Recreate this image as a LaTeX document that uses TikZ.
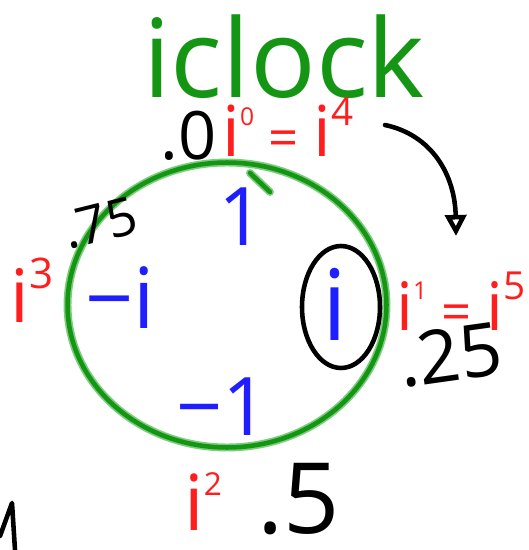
\documentclass[tikz,border=0pt]{standalone}
\usepackage{fontspec}
\setmainfont{Open Sans}
\usepackage{tikz}
\usetikzlibrary{arrows.meta}
\definecolor{penred}{RGB}{255,30,30}
\definecolor{penblue}{RGB}{30,30,255}
\definecolor{pengreen}{RGB}{20,150,20}
\definecolor{halogreen}{RGB}{125,205,125}
\newcommand{\sps}[2][18]{\raisebox{.45em}{\fontsize{#1}{#1}\selectfont #2}}
\newcommand{\eqs}{{\fontsize{30}{30}\selectfont\;=\;}}

\begin{document}
\begin{tikzpicture}[x=0.02cm, y=-0.02cm,
  every node/.style={inner sep=0pt, anchor=base west},
  power/.style={text=penred, font=\fontsize{38}{38}\selectfont},
  frac/.style={text=black, font=\fontsize{40}{40}\selectfont},
  val/.style={text=penblue, font=\fontsize{46}{46}\selectfont},
  pen/.style={line width=2.6pt, line cap=round, line join=round}]
  \useasboundingbox (0,0) rectangle (528,550);

  % Title
  \node[text=pengreen, font=\fontsize{62}{62}\selectfont] (title) at (143,98) {iclock};

  % Clock face
  \draw[pen, halogreen, line width=4.5pt] (227,305) ellipse [x radius=3.19cm, y radius=2.85cm];
  \draw[pen, pengreen] (227,305) ellipse [x radius=3.19cm, y radius=2.85cm];
  \coordinate (barbS) at (250,173);
  \coordinate (barbE) at (270,192);
  \draw[pen, halogreen, line width=4.5pt] (barbS) -- (barbE);
  \draw[pen, pengreen] (barbS) -- (barbE);

  % Values on the face
  \node[val] (vone) at (218,245) {1};
  \node[val, font=\fontsize{56}{56}\selectfont] (vi) at (322,340) {i};
  \node[val, font=\fontsize{48}{48}\selectfont] (vmi) at (85,328) {−i};
  \node[val] (vmone) at (176,435) {−1};
  \draw[pen, black] (341,307) ellipse [x radius=0.78cm, y radius=1.22cm];

  % Powers of i
  \node[power, font=\fontsize{40}{40}\selectfont] (pw0) at (222,157) {i\sps[14]{0}\eqs i\sps[22]{4}};
  \node[power, font=\fontsize{42}{42}\selectfont] (pw3) at (10,322) {i\sps[24]{3}};
  \node[power] (pw1) at (396,330) {i\sps[14]{1}\eqs i\sps[22]{5}};
  \node[power, font=\fontsize{44}{44}\selectfont] (pw2) at (184,530) {i\sps{2}};

  % Turns
  \node[frac, font=\fontsize{38}{38}\selectfont] (f0) at (160,160) {.0};
  \node[frac, font=\fontsize{30}{30}\selectfont, rotate=14] (f75) at (68,250) {.75};
  \node[frac, font=\fontsize{42}{42}\selectfont, rotate=8] (f25) at (402,388) {.25};
  \node[frac, font=\fontsize{56}{56}\selectfont] (f5) at (257,533) {.5};

  % Direction
  \coordinate (arrS) at (385,125);
  \coordinate (arrE) at (456,236);
  \draw[pen, -{Triangle[open, length=12pt, width=12pt]}] (arrS) .. controls (432,135) and (455,175) .. (arrE);

  % Cut off at the edge
  \draw[pen] (0,536) -- (12,503) -- (15,550);
\end{tikzpicture}
\end{document}
